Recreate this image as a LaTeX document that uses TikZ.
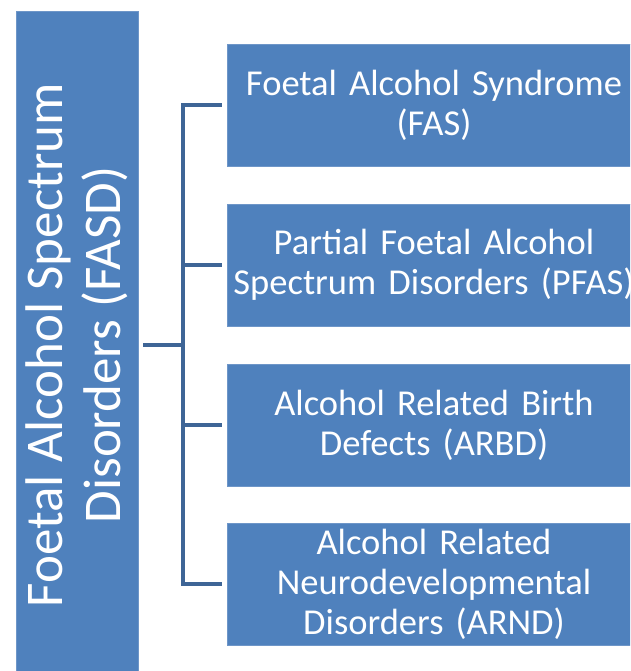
\documentclass[tikz,border=0pt]{standalone}
\usepackage{fontspec}
\setmainfont{Carlito}
\usepackage{tikz}
\usetikzlibrary{positioning, calc}
\definecolor{boxblue}{RGB}{79,129,189}
\definecolor{boxedge}{RGB}{110,150,200}
\definecolor{linkblue}{RGB}{62,101,150}
\tikzset{
  mainbox/.style={rectangle, draw=boxedge, fill=boxblue, text=white,
    align=center, line width=0.8pt,
    font=\fontsize{53pt}{58pt}\selectfont},
  subbox/.style={rectangle, draw=boxedge, fill=boxblue, text=white,
    text width=410pt, align=center, minimum width=414pt, minimum height=122pt,
    inner sep=0pt, line width=0.8pt,
    font=\fontsize{36.5pt}{40pt}\selectfont},
  bracket/.style={line width=4.5pt, color=linkblue}
}
\begin{document}
\begin{tikzpicture}[x=1pt, y=-1pt]
  \useasboundingbox (0,0) rectangle (630,671);
  \clip (0,0) rectangle (630,671);

  % Spectrum box (rotated)
  \node[mainbox, rotate=90, minimum width=668pt, minimum height=122pt] (fasd) at (77,345)
    {Foetal Alcohol Spectrum\\Disorders (FASD)};

  % Subtypes
  \node[subbox] (fas) at (434,105) {Foetal Alcohol Syndrome\\(FAS)};
  \node[subbox] (pfas) at (434,265) {Partial Foetal Alcohol\\Spectrum Disorders (PFAS)};
  \node[subbox] (arbd) at (434,425) {Alcohol Related Birth\\Defects (ARBD)};
  \node[subbox] (arnd) at (434,584) {Alcohol Related\\Neurodevelopmental\\Disorders (ARND)};

  % Bracket
  \coordinate (hub) at (183,345);
  \draw[bracket] ([xshift=5pt]fasd.south) -- (hub);
  \draw[bracket] ([xshift=-5pt]fas.west) -- (hub |- fas.west) -- (hub |- arnd.west) -- ([xshift=-5pt]arnd.west);
  \draw[bracket] (hub |- pfas.west) -- ([xshift=-5pt]pfas.west);
  \draw[bracket] (hub |- arbd.west) -- ([xshift=-5pt]arbd.west);
\end{tikzpicture}
\end{document}
